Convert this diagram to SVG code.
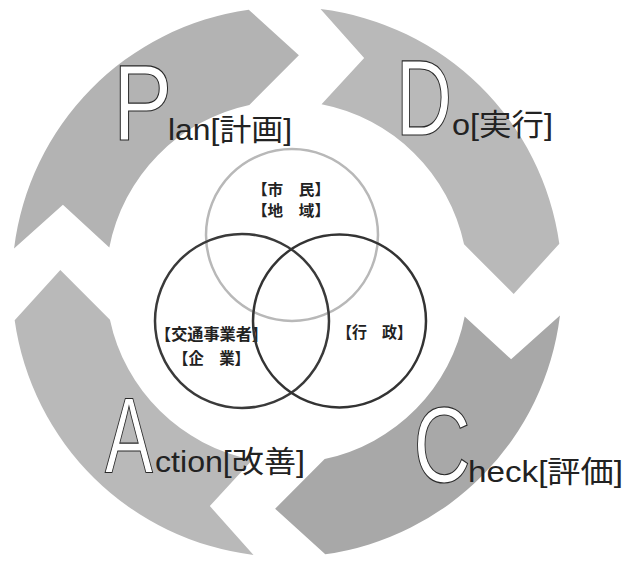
<svg xmlns="http://www.w3.org/2000/svg" xmlns:xlink="http://www.w3.org/1999/xlink" width="637" height="561" viewBox="0 0 637 561">
<style>
.big{font-family:"Liberation Sans","Noto Sans CJK JP",sans-serif;font-size:107px;fill:#ffffff;stroke:#2a2a2a;stroke-width:1.2px;text-anchor:middle}
.lbl{font-family:"Liberation Sans","Noto Sans CJK JP",sans-serif;font-size:30px;fill:#222222}
.ven{font-family:"Noto Sans CJK JP",sans-serif;font-size:16px;fill:#222222;text-anchor:middle;font-weight:bold}
.vs{font-size:15px}
.circ{fill:none;stroke-width:2.5}
</style>
<defs>
<path id="arrow" d="M 14.05 248.49 A 275 275 0 0 1 248.73 9.67 L 298.88 55.31 L 249.37 104.95 A 181 181 0 0 0 109.32 247.46 L 62.91 204.84 Z"/>
</defs>
<rect x="0" y="0" width="637" height="561" fill="#ffffff"/>
<g id="plan">
<use xlink:href="#arrow" href="#arrow" fill="#b3b3b3"/>
<text class="big" transform="translate(142.6,140) scale(0.83,1)">P</text>
<text class="lbl" x="168" y="140" textLength="124" lengthAdjust="spacingAndGlyphs">lan[計画]</text>
</g>
<g id="do">
<use xlink:href="#arrow" href="#arrow" fill="#b9b9b9" transform="rotate(90 287 282)"/>
<text class="big" transform="translate(424,135) scale(0.73,1)">D</text>
<text class="lbl" x="452" y="135" textLength="101" lengthAdjust="spacingAndGlyphs">o[実行]</text>
</g>
<g id="check">
<use xlink:href="#arrow" href="#arrow" fill="#a8a8a8" transform="rotate(180 287 282)"/>
<text class="big" transform="translate(442,482) scale(0.74,1)">C</text>
<text class="lbl" x="468" y="482" textLength="155" lengthAdjust="spacingAndGlyphs">heck[評価]</text>
</g>
<g id="action">
<use xlink:href="#arrow" href="#arrow" fill="#b9b9b9" transform="rotate(270 287 282)"/>
<text class="big" transform="translate(129,473) scale(0.67,1)">A</text>
<text class="lbl" x="155" y="472" textLength="150" lengthAdjust="spacingAndGlyphs">ction[改善]</text>
</g>
<g id="citizens">
<circle class="circ" cx="292" cy="235" r="86" stroke="#b8b8b8"/>
<text class="ven vs" x="291" y="195" textLength="78" lengthAdjust="spacingAndGlyphs">【市　民】</text>
<text class="ven vs" x="291" y="216" textLength="78" lengthAdjust="spacingAndGlyphs">【地　域】</text>
</g>
<g id="operators">
<circle class="circ" cx="242" cy="321" r="87" stroke="#3a3a3a"/>
<text class="ven" x="211.5" y="340" textLength="113" lengthAdjust="spacingAndGlyphs">【交通事業者】</text>
<text class="ven" x="211.5" y="364" textLength="77" lengthAdjust="spacingAndGlyphs">【企　業】</text>
</g>
<g id="government">
<circle class="circ" cx="339.5" cy="321" r="86.5" stroke="#333333"/>
<text class="ven" x="374.5" y="338" textLength="75" lengthAdjust="spacingAndGlyphs">【行　政】</text>
</g>
<g id="connectors"></g>
</svg>
